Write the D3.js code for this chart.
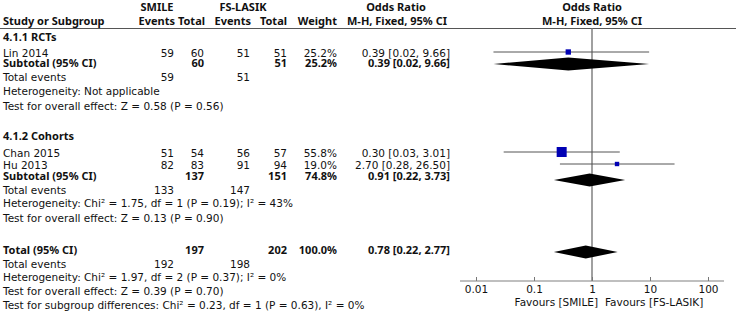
<!DOCTYPE html>
<html>
<head>
<meta charset="utf-8">
<script src="https://cdn.jsdelivr.net/npm/d3@7"></script>
<style>
    body { margin: 0; background: #fff; }
    text { font-family: "DejaVu Sans", sans-serif; font-size: 10.5px; fill: #111; }
    text.b { font-family: "Noto Sans", "DejaVu Sans", sans-serif; font-weight: bold; font-size: 11px; }
</style>
</head>
<body>
<div id="forest"></div>
<script>

    //Study level data
    var groupNames = ["4.1.1 RCTs", "4.1.2 Cohorts"];
    var studyNames = ["Lin 2014", "Chan 2015", "Hu 2013"];
    var smileEvents = [59, 51, 82];
    var smileTotal = [60, 54, 83];
    var lasikEvents = [51, 56, 91];
    var lasikTotal = [51, 57, 94];
    var studyWeight = [25.2, 55.8, 19.0];
    var studyOR = [0.39, 0.30, 2.70];
    var studyLow = [0.02, 0.03, 0.28];
    var studyHigh = [9.66, 3.01, 26.50];

    //Subtotals and total
    var pooledNames = ["Subtotal (95% CI)", "Subtotal (95% CI)", "Total (95% CI)"];
    var pooledSmileEvents = [59, 133, 192];
    var pooledSmileTotal = [60, 137, 197];
    var pooledLasikEvents = [51, 147, 198];
    var pooledLasikTotal = [51, 151, 202];
    var pooledWeight = [25.2, 74.8, 100.0];
    var pooledOR = [0.39, 0.91, 0.78];
    var pooledLow = [0.02, 0.22, 0.22];
    var pooledHigh = [9.66, 3.73, 2.77];
    var heterogeneity = [
        "Heterogeneity: Not applicable",
        "Heterogeneity: Chi² = 1.75, df = 1 (P = 0.19); I² = 43%",
        "Heterogeneity: Chi² = 1.97, df = 2 (P = 0.37); I² = 0%"
    ];
    var overallEffect = [
        "Test for overall effect: Z = 0.58 (P = 0.56)",
        "Test for overall effect: Z = 0.13 (P = 0.90)",
        "Test for overall effect: Z = 0.39 (P = 0.70)"
    ];
    var subgroupTest = "Test for subgroup differences: Chi² = 0.23, df = 1 (P = 0.63), I² = 0%";

    //Axis
    var axisTicks = [0.01, 0.1, 1, 10, 100];
    var favourLabels = ["Favours [SMILE]", "Favours [FS-LASIK]"];

    //Layout: baselines of the rows
    var width = 736, height = 319;
    var textX = 3;
    var groupY = [41, 140];
    var studyY = [57, 157, 169];
    var pooledY = [67, 180, 254];
    var diamondY = [64, 180, 252];
    var eventsY = [81, 194, 268];
    var hetY = [95, 207, 281];
    var effectY = [110, 222, 295];
    var subgroupY = 309;
    var axisY = 281, topLineY = 28.5;
    var col = {se: 174, st: 204, le: 250, lt: 287, w: 337, or: 450};

    var fmt2 = d3.format(".2f"), fmtW = d3.format(".1f");

    var xScale = d3.scaleLog()
        .domain([0.01, 100])
        .range([476, 708]);

    var sizeScale = d3.scaleLinear()
        .domain([0, 55.8])
        .range([1.5, 10]);

    var svg = d3.select("#forest")
        .append("svg")
        .attr("width", width)
        .attr("height", height);

    function addText(x, y, str, anchor, bold) {
        return svg.append("text")
            .attr("x", x)
            .attr("y", y)
            .attr("text-anchor", anchor || "start")
            .attr("class", bold ? "b" : null)
            .text(str);
    }

    function orText(o, lo, hi) {
        return fmt2(o) + " [" + fmt2(lo) + ", " + fmt2(hi) + "]";
    }

    ////////////////////// HEADER //////////////////////
    addText(157, 11, "SMILE", "middle", true);
    addText(243, 11, "FS-LASIK", "middle", true);
    addText(396, 11, "Odds Ratio", "middle", true);
    addText(xScale(1), 11, "Odds Ratio", "middle", true);
    addText(textX, 25, "Study or Subgroup", "start", true);
    addText(col.se + 1, 25, "Events", "end", true);
    addText(col.st + 1, 25, "Total", "end", true);
    addText(col.le + 1, 25, "Events", "end", true);
    addText(col.lt, 25, "Total", "end", true);
    addText(col.w, 25, "Weight", "end", true);
    addText(397, 25, "M-H, Fixed, 95% CI", "middle", true);
    addText(xScale(1), 25, "M-H, Fixed, 95% CI", "middle", true);

    svg.append("line")
        .attr("x1", 0).attr("x2", width)
        .attr("y1", topLineY).attr("y2", topLineY)
        .attr("stroke", "#555")
        .attr("stroke-width", 1.2);

    //Line of no effect
    svg.append("line")
        .attr("x1", xScale(1)).attr("x2", xScale(1))
        .attr("y1", topLineY).attr("y2", axisY)
        .attr("stroke", "#808080")
        .attr("stroke-width", 1.5);

    ////////////////////// GROUP HEADERS //////////////////////
    groupNames.forEach(function(g, i) {
        addText(textX, groupY[i], g, "start", true);
    });

    ////////////////////// STUDIES //////////////////////
    studyNames.forEach(function(name, i) {
        var y = studyY[i];
        addText(textX, y, name);
        addText(col.se, y, smileEvents[i], "end");
        addText(col.st, y, smileTotal[i], "end");
        addText(col.le, y, lasikEvents[i], "end");
        addText(col.lt, y, lasikTotal[i], "end");
        addText(col.w, y, fmtW(studyWeight[i]) + "%", "end");
        addText(col.or, y, orText(studyOR[i], studyLow[i], studyHigh[i]), "end");
    });

    var studyMarks = svg.append("g").attr("class", "studies");

    studyMarks.selectAll("line")
        .data(studyNames)
        .enter()
        .append("line")
            .attr("x1", (d, i) => xScale(studyLow[i]))
            .attr("x2", (d, i) => xScale(studyHigh[i]))
            .attr("y1", (d, i) => studyY[i] - 5)
            .attr("y2", (d, i) => studyY[i] - 5)
            .attr("stroke", "#555")
            .attr("stroke-width", 1);

    studyMarks.selectAll("rect")
        .data(studyNames)
        .enter()
        .append("rect")
            .attr("x", (d, i) => xScale(studyOR[i]) - sizeScale(studyWeight[i]) / 2)
            .attr("y", (d, i) => studyY[i] - 5 - sizeScale(studyWeight[i]) / 2)
            .attr("width", (d, i) => sizeScale(studyWeight[i]))
            .attr("height", (d, i) => sizeScale(studyWeight[i]))
            .attr("fill", "#0000b4");

    ////////////////////// SUBTOTALS //////////////////////
    pooledNames.forEach(function(name, i) {
        var y = pooledY[i];
        addText(textX, y, name, "start", true);
        addText(col.st, y, pooledSmileTotal[i], "end", true);
        addText(col.lt, y, pooledLasikTotal[i], "end", true);
        addText(col.w, y, fmtW(pooledWeight[i]) + "%", "end", true);
        addText(col.or, y, orText(pooledOR[i], pooledLow[i], pooledHigh[i]), "end", true);

        addText(textX, eventsY[i], "Total events");
        addText(col.se, eventsY[i], pooledSmileEvents[i], "end");
        addText(col.le, eventsY[i], pooledLasikEvents[i], "end");
        addText(textX, hetY[i], heterogeneity[i]);
        addText(textX, effectY[i], overallEffect[i]);
    });

    addText(textX, subgroupY, subgroupTest);

    svg.append("g")
        .attr("class", "diamonds")
        .selectAll("polygon")
        .data(pooledNames)
        .enter()
        .append("polygon")
            .attr("points", function(d, i) {
                var cy = diamondY[i], h = 6.5;
                return [
                    [xScale(pooledLow[i]), cy],
                    [xScale(pooledOR[i]), cy - h],
                    [xScale(pooledHigh[i]), cy],
                    [xScale(pooledOR[i]), cy + h]
                ].join(" ");
            })
            .attr("fill", "#000");

    ////////////////////// AXIS //////////////////////
    var axis = d3.axisBottom(xScale)
        .tickValues(axisTicks)
        .tickFormat(d => String(d))
        .tickSizeInner(-4)
        .tickSizeOuter(0)
        .tickPadding(5);

    var axisG = svg.append("g")
        .attr("transform", "translate(0," + axisY + ")")
        .call(axis);

    axisG.select(".domain").remove();
    axisG.selectAll(".tick line").attr("stroke", "#777");

    axisG.append("line")
        .attr("x1", xScale.range()[0] - 16)
        .attr("x2", xScale.range()[1] + 16)
        .attr("stroke", "#808080")
        .attr("stroke-width", 1.2);

    addText(xScale(1) + 6, 306, favourLabels[0], "end");
    addText(xScale(1) + 13, 306, favourLabels[1], "start");

</script>
</body>
</html>
